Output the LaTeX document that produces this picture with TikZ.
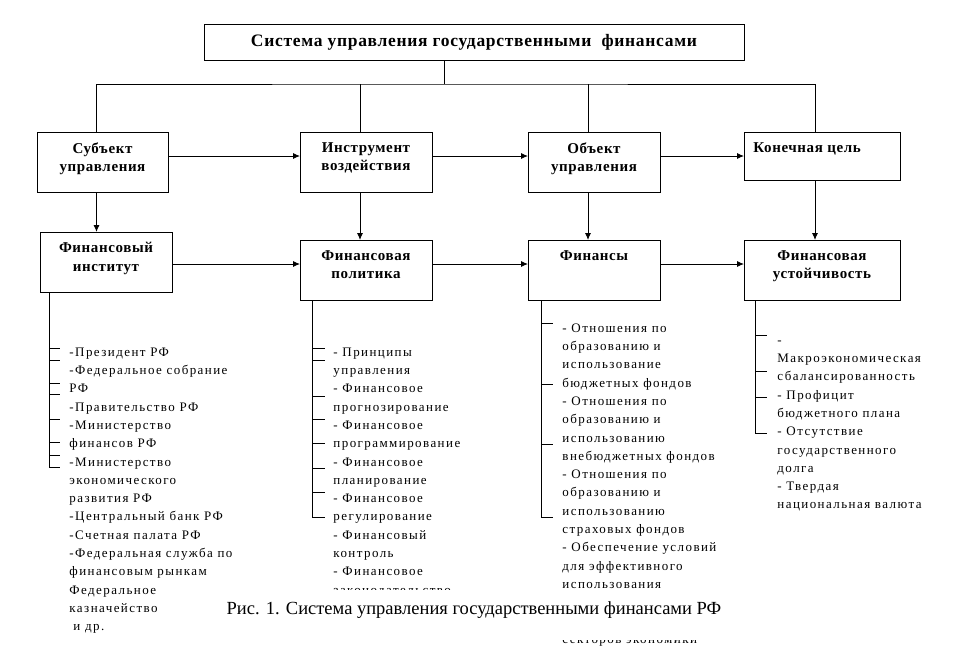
\documentclass[tikz,border=0pt]{standalone}
\usepackage{fontspec}
\setmainfont{Liberation Serif}
\newfontfamily\listfont{Liberation Serif}[LetterSpace=11.0]
\newfontfamily\boxfont{Liberation Serif}[LetterSpace=4.0]
\usetikzlibrary{shapes,arrows,arrows.meta,positioning}

\begin{document}
\begin{tikzpicture}[
    x=1pt, y=-1pt,
    line width=0.9pt,
    box/.style={rectangle, draw=black, line width=1pt, minimum width=132pt, minimum height=60pt, inner sep=0pt, outer sep=0pt, anchor=north west},
    lbl/.style={anchor=north, yshift=-10pt, align=center, inner sep=0pt, font=\boxfont\bfseries\fontsize{15}{18.5}\selectfont},
    list/.style={anchor=north west, align=left, inner sep=0pt, font=\listfont\fontsize{13}{18.3}\selectfont},
    arrow/.style={-{Latex[length=7pt, width=6pt]}}
]
\useasboundingbox (0,0) rectangle (961,649);

% Title
\node[box, minimum width=540pt, minimum height=36pt, font=\boxfont\bfseries\fontsize{17.5}{20}\selectfont] (sys) at (204,24) {Система управления государственными\ \ финансами};

% Top row
\node[box, minimum width=131pt, label={[lbl]north:Субъект\\управления}] (subj) at (37,132) {};
\node[box, right=132pt of subj.north east, anchor=north west, label={[lbl]north:Инструмент\\воздействия}] (tool) {};
\node[box, right=96pt of tool.north east, anchor=north west, label={[lbl]north:Объект\\управления}] (obj) {};
\node[box, right=84pt of obj.north east, anchor=north west, minimum width=156pt, minimum height=48pt, label={[lbl, anchor=north west, xshift=9pt]north west:Конечная цель}] (goal) {};

% Second row
\node[box, label={[lbl]north:Финансовый\\институт}] (inst) at (40,232) {};
\node[box, below=48pt of tool.south west, anchor=north west, label={[lbl]north:Финансовая\\политика}] (pol) {};
\node[box, below=48pt of obj.south west, anchor=north west, label={[lbl]north:Финансы}] (fin) {};
\node[box, below=60pt of goal.south west, anchor=north west, minimum width=156pt, label={[lbl]north:Финансовая\\устойчивость}] (stab) {};

% Bus from the title
\draw ([xshift=-30pt]sys.south) -- ++(0,24) coordinate (bus);
\draw ([xshift=-6pt]subj.north) |- (bus) -| ([xshift=-7pt]goal.north);
\draw ([xshift=-6pt]tool.north) -- ([xshift=-6pt]tool.north |- bus);
\draw ([xshift=-6pt]obj.north) -- ([xshift=-6pt]obj.north |- bus);

% Down arrows
\draw[arrow] ([xshift=-6pt]subj.south) -- ([xshift=-6pt]subj.south |- inst.north);
\draw[arrow] ([xshift=-6pt]tool.south) -- ([xshift=-6pt]tool.south |- pol.north);
\draw[arrow] ([xshift=-6pt]obj.south) -- ([xshift=-6pt]obj.south |- fin.north);
\draw[arrow] ([xshift=-7pt]goal.south) -- ([xshift=-7pt]goal.south |- stab.north);

% Side arrows
\draw[arrow] ([yshift=6pt]subj.east) -- ([yshift=6pt]tool.west);
\draw[arrow] ([yshift=6pt]tool.east) -- ([yshift=6pt]obj.west);
\draw[arrow] ([yshift=6pt]obj.east) -- (goal.west);
\draw[arrow] ([yshift=-2pt]inst.east) -- ([yshift=6pt]pol.west);
\draw[arrow] ([yshift=6pt]pol.east) -- ([yshift=6pt]fin.west);
\draw[arrow] ([yshift=6pt]fin.east) -- ([yshift=6pt]stab.west);

% Brackets
\draw ([xshift=9pt]inst.south west) -- ++(0,175);
\foreach \y in {348,360,383,394,419,442,455,467} \draw (49,\y) -- (60,\y);
\draw ([xshift=12pt]pol.south west) -- ++(0,217);
\foreach \y in {348,360,396,419,443,468,492,517} \draw (312,\y) -- (325,\y);
\draw ([xshift=13pt]fin.south west) -- ++(0,217);
\foreach \y in {323,384,444,517} \draw (541,\y) -- (553,\y);
\draw ([xshift=11pt]stab.south west) -- ++(0,133);
\foreach \y in {335,371,397,433} \draw (755,\y) -- (767,\y);

% Lists
\node[list] (instlist) at (69,343) {\strut-Президент РФ\\-Федеральное собрание\\РФ\\-Правительство РФ\\-Министерство\\финансов РФ\\-Министерство\\экономического\\развития РФ\\-Центральный банк РФ\\-Счетная палата РФ\\-Федеральная служба по\\финансовым рынкам\\Федеральное\\казначейство\\\hspace{4pt}и др.};
\node[list] (pollist) at (333,343) {\strut- Принципы\\управления\\- Финансовое\\прогнозирование\\- Финансовое\\программирование\\- Финансовое\\планирование\\- Финансовое\\регулирование\\- Финансовый\\контроль\\- Финансовое\\законодательство};
\node[list] (finlist) at (562,319) {\strut- Отношения по\\образованию и\\использование\\бюджетных фондов\\- Отношения по\\образованию и\\использованию\\внебюджетных фондов\\- Отношения по\\образованию и\\использованию\\страховых фондов\\- Обеспечение условий\\для эффективного\\использования\\[36.6pt]секторов экономики};
\node[list] (stablist) at (777,331) {\strut-\\Макроэкономическая\\сбалансированность\\- Профицит\\бюджетного плана\\- Отсутствие\\государственного\\долга\\- Твердая\\национальная валюта};

% Caption
\node[fill=white, inner sep=0pt, minimum width=560pt, text height=24pt, text depth=26pt, anchor=base, font=\fontsize{18.5}{20}\selectfont] (caption) at (474,614) {Рис. 1. Система управления государственными финансами РФ};

\end{tikzpicture}
\end{document}
